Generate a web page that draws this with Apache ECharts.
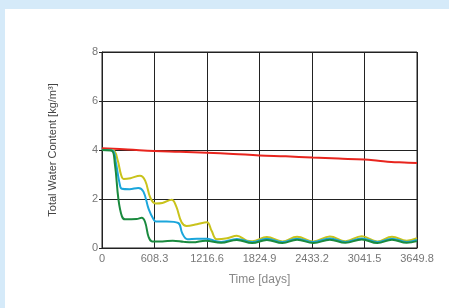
<!DOCTYPE html>
<html>
<head>
<meta charset="utf-8">
<script src="https://cdn.jsdelivr.net/npm/echarts@6/dist/echarts.min.js"></script>
<style>
  html, body { margin: 0; padding: 0; background: #d5eaf9; }
  #chart { position: absolute; left: 5px; top: 9px; width: 444px; height: 299px; background: #ffffff; }
</style>
</head>
<body>
<div id="chart"></div>
<script>
// x tick step (days)
const xStep = 608.3
const xMax = 3649.8
const yTicks = [0, 2, 4, 6, 8]

// red
const redDays = [0, 300, 608, 900, 1216, 1520, 1825, 2130, 2433, 2740, 3041, 3200, 3350, 3500, 3650]
const redVals = [4.07, 4.02, 3.96, 3.93, 3.89, 3.84, 3.78, 3.74, 3.69, 3.65, 3.61, 3.56, 3.51, 3.49, 3.47]

// yellow
const yellowDays = [0, 130, 180, 220, 250, 330, 440, 500, 560, 620, 700, 806, 860, 922, 980, 1100, 1216, 1270, 1330, 1450, 1563, 1680,
  1740, 1910, 2090, 2260, 2450, 2640, 2820, 3010, 3190, 3360, 3530, 3650]
const yellowVals = [4.0, 3.98, 3.6, 3.0, 2.82, 2.85, 2.95, 2.75, 2.05, 1.82, 1.84, 1.97, 1.7, 1.05, 0.9, 0.97, 1.05, 0.7, 0.36, 0.4, 0.5, 0.3,
  0.28, 0.45, 0.27, 0.46, 0.27, 0.47, 0.28, 0.48, 0.27, 0.46, 0.3, 0.4]

// blue
const blueDays = [0, 120, 160, 200, 230, 320, 420, 480, 540, 600, 625, 750, 884, 930, 990, 1100, 1216, 1300, 1380, 1563,
  1740, 1910, 2090, 2260, 2450, 2640, 2820, 3010, 3190, 3360, 3530, 3650]
const blueVals = [4.0, 3.98, 3.5, 2.7, 2.42, 2.4, 2.45, 2.3, 1.6, 1.15, 1.08, 1.08, 1.02, 0.6, 0.36, 0.38, 0.38, 0.3, 0.25, 0.37,
  0.24, 0.38, 0.24, 0.38, 0.24, 0.39, 0.24, 0.39, 0.24, 0.38, 0.25, 0.33]

// green
const greenDays = [0, 110, 150, 190, 230, 266, 400, 460, 500, 540, 580, 700, 820, 950, 1050, 1200, 1380, 1563,
  1740, 1910, 2090, 2260, 2450, 2640, 2820, 3010, 3190, 3360, 3530, 3650]
const greenVals = [4.0, 3.98, 3.4, 2.0, 1.3, 1.17, 1.18, 1.23, 1.05, 0.45, 0.27, 0.27, 0.3, 0.25, 0.23, 0.3, 0.21, 0.33,
  0.2, 0.33, 0.2, 0.34, 0.2, 0.34, 0.21, 0.35, 0.2, 0.34, 0.21, 0.28]

function pairs(xs, ys) {
  return xs.map((x, i) => [x, ys[i]])
}

const chart = echarts.init(document.getElementById('chart'))
const labelStyle = { color: '#777', fontSize: 11, fontFamily: 'Liberation Sans, Arial, sans-serif' }

function line(data, color) {
  return {
    type: 'line',
    data: data,
    smooth: 0.4,
    showSymbol: false,
    lineStyle: { color: color, width: 2 }
  }
}

chart.setOption({
  animation: false,
  grid: {
    left: 97,
    top: 43,
    width: 315,
    height: 196,
    show: true,
    borderColor: '#222',
    borderWidth: 1
  },
  xAxis: {
    type: 'value',
    min: 0,
    max: xMax,
    interval: xStep,
    name: 'Time [days]',
    nameLocation: 'middle',
    nameGap: 26,
    nameTextStyle: { color: '#888', fontSize: 12, fontFamily: 'Liberation Sans, Arial, sans-serif' },
    axisLine: { lineStyle: { color: '#222' } },
    axisTick: { show: false },
    axisLabel: Object.assign({ margin: 5, formatter: v => v === 0 ? '0' : v.toFixed(1) }, labelStyle),
    splitLine: { show: true, lineStyle: { color: '#222', width: 1 } }
  },
  yAxis: {
    type: 'value',
    min: yTicks[0],
    max: yTicks[yTicks.length - 1],
    interval: 2,
    name: 'Total Water Content [kg/m³]',
    nameLocation: 'middle',
    nameGap: 44,
    nameTextStyle: { color: '#444', fontSize: 11, fontFamily: 'Liberation Sans, Arial, sans-serif' },
    axisLine: { show: true, lineStyle: { color: '#222' } },
    axisTick: { show: true, length: 3, lineStyle: { color: '#222' } },
    axisLabel: Object.assign({ margin: 4 }, labelStyle),
    splitLine: { show: true, lineStyle: { color: '#222', width: 1 } }
  },
  series: [
    line(pairs(redDays, redVals), '#e8251e'),
    line(pairs(yellowDays, yellowVals), '#c9c31c'),
    line(pairs(blueDays, blueVals), '#1ba6db'),
    line(pairs(greenDays, greenVals), '#1a8a3e')
  ]
})
</script>
</body>
</html>
